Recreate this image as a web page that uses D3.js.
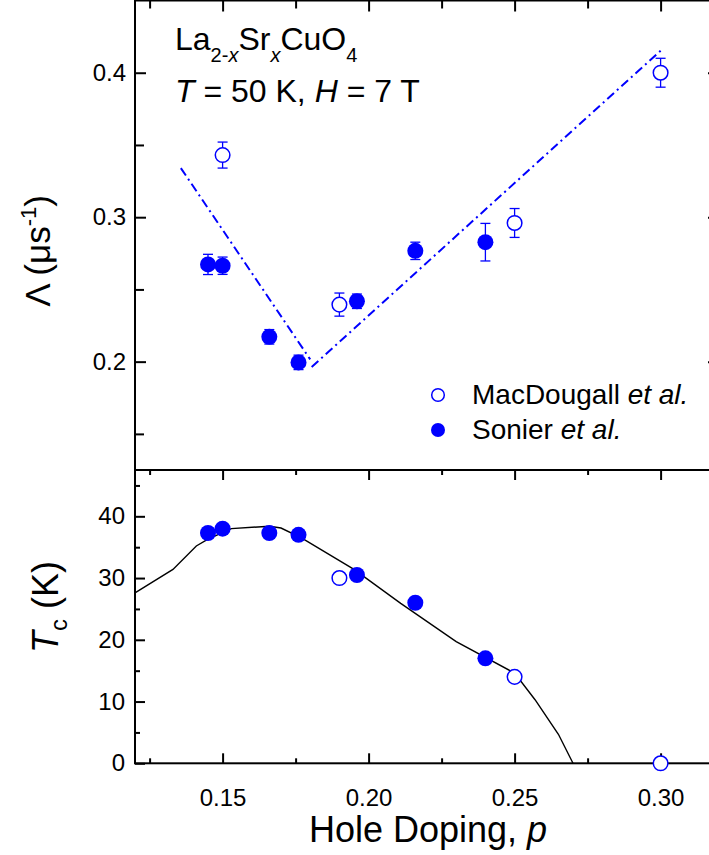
<!DOCTYPE html>
<html>
<head>
<meta charset="utf-8">
<script src="https://cdn.jsdelivr.net/npm/d3@7"></script>
<style>
  body { margin: 0; background: #fff; }
  text { font-family: "Liberation Sans", Arial, sans-serif; }
</style>
</head>
<body>
<div id="chart"></div>
<script>
// MacDougall et al. (open circles)
var macP = [0.15, 0.19, 0.25, 0.30];
var macLam = [0.343, 0.2395, 0.296, 0.400];
var macErr = [0.009, 0.008, 0.010, 0.010];
var macTc = [null, 30.0, 14.0, 0.0];

// Sonier et al. (filled circles)
var sonP = [0.145, 0.15, 0.166, 0.176, 0.196, 0.216, 0.24];
var sonLam = [0.2673, 0.2664, 0.2172, 0.1995, 0.2418, 0.2767, 0.2827];
var sonErr = [0.007, 0.006, 0.005, 0.005, 0.005, 0.006, 0.013];
var sonTc = [37.3, 38.0, 37.3, 37.0, 30.5, 26.0, 17.0];

// Tc(p) curve
var curveP = [0.12, 0.133, 0.141, 0.145, 0.153, 0.166, 0.170, 0.177, 0.195, 0.211, 0.230, 0.25, 0.257, 0.265, 0.270];
var curveTc = [27.6, 31.4, 35.2, 36.3, 38.0, 38.4, 38.1, 36.5, 31.4, 25.9, 19.7, 14.6, 10.3, 4.7, 0];

// dash-dot guide lines
var fitUnderP = [0.1357, 0.180];
var fitUnderLam = [0.334, 0.2016];
var fitOverP = [0.1805, 0.3007];
var fitOverLam = [0.1963, 0.4165];

var xTicks = [0.15, 0.20, 0.25, 0.30];
var xMinor = [0.125, 0.175, 0.225, 0.275];
var lamTicks = [0.2, 0.3, 0.4];
var lamMinor = [0.15, 0.25, 0.35];
var tcTicks = [0, 10, 20, 30, 40];
var tcMinor = [5, 15, 25, 35, 45];

var W = 709, H = 855;
var left = 135, right = 719;
var top1 = 0.5, bot1 = 470, top2 = 470, bot2 = 763.3;
var blue = "#0000ff";

var svg = d3.select("#chart").append("svg")
    .attr("width", W).attr("height", H);

var x = d3.scaleLinear().domain([0.12, 0.32]).range([left, right]);
var yL = d3.scaleLinear().domain([0.125, 0.45]).range([bot1, top1]);
var yT = d3.scaleLinear().domain([0, 47.5]).range([bot2, top2]);

function styleAxis(g) {
  g.select(".domain").remove();
  g.selectAll("line").attr("stroke", "#000").attr("stroke-width", 2);
  g.selectAll("text").attr("font-size", 24).attr("fill", "#000")
    .attr("font-family", "Liberation Sans, Arial, sans-serif");
}

// ---------- top panel axes ----------
svg.append("g").attr("transform", "translate(0," + top1 + ")")
  .call(d3.axisTop(x).tickValues(xTicks).tickSize(-11).tickFormat(""))
  .call(styleAxis);
svg.append("g").attr("transform", "translate(0," + top1 + ")")
  .call(d3.axisTop(x).tickValues(xMinor).tickSize(-8).tickFormat(""))
  .call(styleAxis);
svg.append("g").attr("transform", "translate(" + left + ",0)")
  .call(d3.axisLeft(yL).tickValues(lamTicks).tickSize(-11).tickPadding(9).tickFormat(d3.format(".1f")))
  .call(styleAxis);
svg.append("g").attr("transform", "translate(" + left + ",0)")
  .call(d3.axisLeft(yL).tickValues(lamMinor).tickSize(-9).tickFormat(""))
  .call(styleAxis);
svg.append("g").attr("transform", "translate(" + right + ",0)")
  .call(d3.axisRight(yL).tickValues(lamTicks).tickSize(-11).tickFormat(""))
  .call(styleAxis);
svg.append("g").attr("transform", "translate(" + right + ",0)")
  .call(d3.axisRight(yL).tickValues(lamMinor).tickSize(-9).tickFormat(""))
  .call(styleAxis);

// ---------- bottom panel axes ----------
svg.append("g").attr("transform", "translate(0," + top2 + ")")
  .call(d3.axisTop(x).tickValues(xTicks).tickSize(-10).tickFormat(""))
  .call(styleAxis);
svg.append("g").attr("transform", "translate(0," + top2 + ")")
  .call(d3.axisTop(x).tickValues(xMinor).tickSize(-5).tickFormat(""))
  .call(styleAxis);
svg.append("g").attr("transform", "translate(0," + bot2 + ")")
  .call(d3.axisBottom(x).tickValues(xTicks).tickSize(-10).tickPadding(26).tickFormat(d3.format(".2f")))
  .call(styleAxis);
svg.append("g").attr("transform", "translate(0," + bot2 + ")")
  .call(d3.axisBottom(x).tickValues(xMinor).tickSize(-5).tickFormat(""))
  .call(styleAxis);
svg.append("g").attr("transform", "translate(" + left + ",0)")
  .call(d3.axisLeft(yT).tickValues(tcTicks).tickSize(-10).tickPadding(10).tickFormat(d3.format("d")))
  .call(styleAxis);
svg.append("g").attr("transform", "translate(" + left + ",0)")
  .call(d3.axisLeft(yT).tickValues(tcMinor).tickSize(-5).tickFormat(""))
  .call(styleAxis);
svg.append("g").attr("transform", "translate(" + right + ",0)")
  .call(d3.axisRight(yT).tickValues(tcTicks).tickSize(-10).tickFormat(""))
  .call(styleAxis);
svg.append("g").attr("transform", "translate(" + right + ",0)")
  .call(d3.axisRight(yT).tickValues(tcMinor).tickSize(-5).tickFormat(""))
  .call(styleAxis);

// frames
svg.append("rect").attr("x", left).attr("y", top1)
  .attr("width", right - left).attr("height", bot1 - top1)
  .attr("fill", "none").attr("stroke", "#000").attr("stroke-width", 2);
svg.append("rect").attr("x", left).attr("y", top2)
  .attr("width", right - left).attr("height", bot2 - top2)
  .attr("fill", "none").attr("stroke", "#000").attr("stroke-width", 2);

// ---------- top panel data ----------
var lineLam = d3.line().x(function(d) { return x(d[0]); }).y(function(d) { return yL(d[1]); });
[[fitUnderP, fitUnderLam], [fitOverP, fitOverLam]].forEach(function(f) {
  svg.append("path")
    .attr("d", lineLam(d3.zip(f[0], f[1])))
    .attr("fill", "none").attr("stroke", blue).attr("stroke-width", 2)
    .attr("stroke-dasharray", "9,4,2,4");
});

function errorBars(ps, vals, errs) {
  var g = svg.append("g").attr("stroke", blue).attr("stroke-width", 1.3);
  ps.forEach(function(p, i) {
    var cx = x(p), y0 = yL(vals[i] - errs[i]), y1 = yL(vals[i] + errs[i]);
    g.append("line").attr("x1", cx).attr("x2", cx).attr("y1", y0).attr("y2", y1);
    g.append("line").attr("x1", cx - 5).attr("x2", cx + 5).attr("y1", y0).attr("y2", y0);
    g.append("line").attr("x1", cx - 5).attr("x2", cx + 5).attr("y1", y1).attr("y2", y1);
  });
}
errorBars(macP, macLam, macErr);
errorBars(sonP, sonLam, sonErr);

svg.append("g").selectAll("circle")
  .data(d3.zip(macP, macLam)).enter().append("circle")
  .attr("cx", function(d) { return x(d[0]); })
  .attr("cy", function(d) { return yL(d[1]); })
  .attr("r", 7.3).attr("fill", "#fff").attr("stroke", blue).attr("stroke-width", 1.5);
svg.append("g").selectAll("circle")
  .data(d3.zip(sonP, sonLam)).enter().append("circle")
  .attr("cx", function(d) { return x(d[0]); })
  .attr("cy", function(d) { return yL(d[1]); })
  .attr("r", 8).attr("fill", blue);

// ---------- bottom panel data ----------
var lineTc = d3.line().x(function(d) { return x(d[0]); }).y(function(d) { return yT(d[1]); });
svg.append("path")
  .attr("d", lineTc(d3.zip(curveP, curveTc)))
  .attr("fill", "none").attr("stroke", "#000").attr("stroke-width", 1.4);

svg.append("g").selectAll("circle")
  .data(d3.zip(macP, macTc).filter(function(d) { return d[1] !== null; })).enter().append("circle")
  .attr("cx", function(d) { return x(d[0]); })
  .attr("cy", function(d) { return yT(d[1]); })
  .attr("r", 7.3).attr("fill", "#fff").attr("stroke", blue).attr("stroke-width", 1.5);
svg.append("g").selectAll("circle")
  .data(d3.zip(sonP, sonTc)).enter().append("circle")
  .attr("cx", function(d) { return x(d[0]); })
  .attr("cy", function(d) { return yT(d[1]); })
  .attr("r", 8).attr("fill", blue);

// ---------- legend ----------
svg.append("circle").attr("cx", 438).attr("cy", 395).attr("r", 6.3)
  .attr("fill", "#fff").attr("stroke", blue).attr("stroke-width", 1.5);
svg.append("circle").attr("cx", 438).attr("cy", 430).attr("r", 7).attr("fill", blue);
var l1 = svg.append("text").attr("x", 472).attr("y", 404).attr("font-size", 28);
l1.append("tspan").text("MacDougall ");
l1.append("tspan").attr("font-style", "italic").text("et al.");
var l2 = svg.append("text").attr("x", 472).attr("y", 439).attr("font-size", 28);
l2.append("tspan").text("Sonier ");
l2.append("tspan").attr("font-style", "italic").text("et al.");

// ---------- annotation ----------
var t1 = svg.append("text").attr("x", 175).attr("y", 50).attr("font-size", 32);
t1.append("tspan").text("La");
t1.append("tspan").attr("font-size", 20).attr("dy", 12).text("2-");
t1.append("tspan").attr("font-size", 20).attr("font-style", "italic").text("x");
t1.append("tspan").attr("dy", -12).text("Sr");
t1.append("tspan").attr("font-size", 20).attr("font-style", "italic").attr("dy", 12).text("x");
t1.append("tspan").attr("dy", -12).text("CuO");
t1.append("tspan").attr("font-size", 20).attr("dy", 12).text("4");

var t2 = svg.append("text").attr("x", 175).attr("y", 102).attr("font-size", 32);
t2.append("tspan").attr("font-style", "italic").text("T");
t2.append("tspan").text(" = 50 K, ");
t2.append("tspan").attr("font-style", "italic").text("H");
t2.append("tspan").text(" = 7 T");

// ---------- axis titles ----------
svg.append("text").attr("text-anchor", "middle").attr("font-size", 36)
  .attr("x", 428).attr("y", 842)
  .call(function(t) {
    t.append("tspan").text("Hole Doping, ");
    t.append("tspan").attr("font-style", "italic").text("p");
  });

var ty1 = svg.append("text").attr("text-anchor", "middle").attr("font-size", 35)
  .attr("transform", "translate(50,251) rotate(-90)");
ty1.append("tspan").text("\u039B (\u03BCs");
ty1.append("tspan").attr("font-size", 22).attr("dy", -14).text("-1");
ty1.append("tspan").attr("dy", 14).text(")");

var ty2 = svg.append("text").attr("text-anchor", "middle").attr("font-size", 36)
  .attr("transform", "translate(58,607) rotate(-90)");
ty2.append("tspan").attr("font-style", "italic").text("T");
ty2.append("tspan").attr("font-size", 24).attr("dy", 9).text("c");
ty2.append("tspan").attr("dy", -9).text(" (K)");
</script>
</body>
</html>
